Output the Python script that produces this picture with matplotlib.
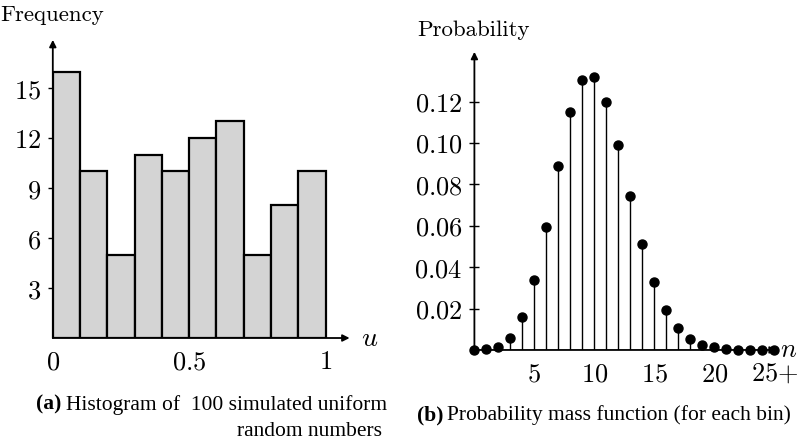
import numpy as np
import matplotlib
matplotlib.use("Agg")
import matplotlib.pyplot as plt

plt.rcParams["mathtext.fontset"] = "cm"

# (a) histogram of 100 simulated uniform numbers
bin_edges = [0.0, 0.1, 0.2, 0.3, 0.4, 0.5, 0.6, 0.7, 0.8, 0.9, 1.0]
freq = [16, 10, 5, 11, 10, 12, 13, 5, 8, 10]
hist_yticks = [3, 6, 9, 12, 15]
hist_xticks = [0, 0.5, 1]
hist_xlabels = ["0", "0.5", "1"]

# (b) probability mass function per bin count, last one is 25+
counts = list(range(26))
pmf = [0.00003, 0.0003, 0.0016, 0.0059, 0.0159, 0.0339, 0.0596, 0.0889,
       0.1148, 0.1304, 0.1319, 0.1199, 0.0988, 0.0743, 0.0513, 0.0327,
       0.0193, 0.0106, 0.0054, 0.0026, 0.0012, 0.0005, 0.0002, 0.0001,
       0.00003, 0.00002]
pmf_yticks = [0.02, 0.04, 0.06, 0.08, 0.10, 0.12]
pmf_xticks = [5, 10, 15, 20, 25]
pmf_xlabels = ["5", "10", "15", "20", "25{+}"]

CM = "cmr10"
TICK_FS = 19
LABEL_FS = 16.5
CAP_FS = 15.5
serif = "Liberation Serif"

fig = plt.figure(figsize=(8, 4.43), dpi=100)


def arrow_axes(ax):
    for s in ax.spines.values():
        s.set_visible(False)
    kw = dict(arrowprops=dict(arrowstyle="-|>", lw=1.3, color="black",
                              mutation_scale=10, shrinkA=0, shrinkB=0),
              annotation_clip=False)
    ax.annotate("", xy=(1, 0), xytext=(0, 0), xycoords="axes fraction", **kw)
    ax.annotate("", xy=(0, 1), xytext=(0, 0), xycoords="axes fraction", **kw)
    ax.tick_params(axis="y", direction="inout", length=7, width=1, pad=5)
    ax.tick_params(axis="x", length=0, pad=8)


# ---- left: histogram
ax1 = fig.add_axes([0.066, 0.237, 0.371, 0.673])
ax1.bar(bin_edges[:-1], freq, width=np.diff(bin_edges), align="edge",
        color="#d4d4d4", edgecolor="black", linewidth=1.6, zorder=2)
ax1.set_xlim(0, 1.088)
ax1.set_ylim(0, 17.9)
arrow_axes(ax1)
ax1.set_yticks(hist_yticks)
ax1.set_yticklabels([f"${v}$" for v in hist_yticks], fontsize=TICK_FS)
ax1.set_xticks(hist_xticks)
ax1.set_xticklabels([f"${v}$" for v in hist_xlabels], fontsize=TICK_FS)
ax1.text(1.13, 0, "$u$", fontsize=20, va="center", ha="left")
fig.text(0.0, 0.966, "Frequency", family=CM, fontsize=LABEL_FS, va="center")

# ---- right: pmf stems
ax2 = fig.add_axes([0.593, 0.21, 0.378, 0.673])
ax2.vlines(counts, 0, pmf, color="black", lw=1.0, zorder=2)
ax2.plot(counts, pmf, "o", color="black", ms=6.5, zorder=3, clip_on=False)
ax2.set_xlim(0, 25.2)
ax2.set_ylim(0, 0.144)
arrow_axes(ax2)
ax2.set_yticks(pmf_yticks)
ax2.set_yticklabels([f"${v:.2f}$" for v in pmf_yticks], fontsize=TICK_FS)
ax2.set_xticks(pmf_xticks)
ax2.set_xticklabels([f"${v}$" for v in pmf_xlabels], fontsize=TICK_FS)
ax2.text(25.5, 0, "$n$", fontsize=19, va="center", ha="left")
fig.text(0.522, 0.932, "Probability", family=CM, fontsize=LABEL_FS, va="center")

# ---- captions
fig.text(0.045, 0.086, "(a)", family=serif, weight="bold",
         fontsize=CAP_FS, va="center")
fig.text(0.484, 0.086, "Histogram of  100 simulated uniform", family=serif,
         fontsize=CAP_FS, va="center", ha="right")
fig.text(0.477, 0.025, "random numbers", family=serif, fontsize=CAP_FS,
         va="center", ha="right")

fig.text(0.521, 0.063, "(b)", family=serif, weight="bold",
         fontsize=CAP_FS, va="center")
fig.text(0.988, 0.063, "Probability mass function (for each bin)",
         family=serif, fontsize=CAP_FS, va="center", ha="right")

fig.savefig("out.png", dpi=100)
